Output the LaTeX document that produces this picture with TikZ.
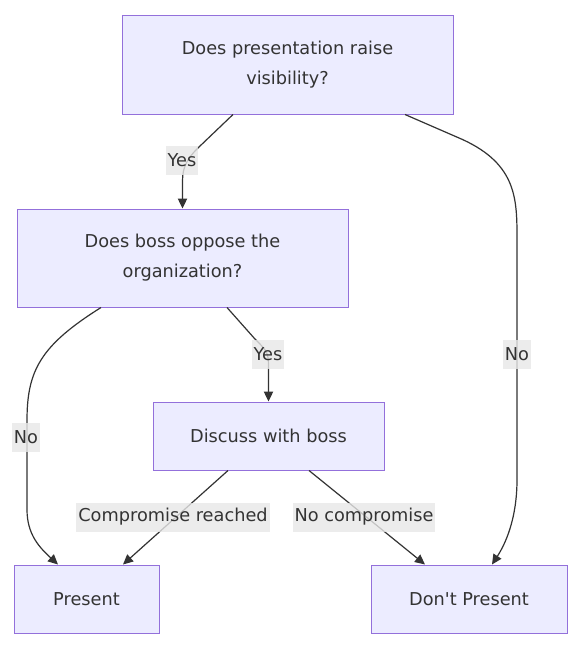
\documentclass[tikz,border=0pt]{standalone}
\usepackage{fontspec}
\newfontfamily\diagfont{DejaVu Sans}
\usetikzlibrary{arrows.meta,calc}
\definecolor{nodefill}{HTML}{ECECFF}
\definecolor{nodeborder}{HTML}{9370DB}
\definecolor{txt}{HTML}{333333}
\definecolor{lblbg}{HTML}{E8E8E8}
\tikzset{
  box/.style={draw=nodeborder, fill=nodefill, line width=0.75pt, text=txt, align=center,
    font=\diagfont\fontsize{13.3pt}{22.5pt}\selectfont, inner sep=0pt},
  edge/.style={draw=txt, line width=0.9pt, -{Triangle[length=7.5pt,width=7pt]}},
  lbl/.style={fill=lblbg, fill opacity=0.8, text opacity=1, text=txt, inner xsep=1.5pt, inner ysep=0pt,
    minimum height=21.75pt, font=\diagfont\fontsize{13.3pt}{15pt}\selectfont},
}
\begin{document}
\begin{tikzpicture}[x=0.75pt,y=-0.75pt]
\useasboundingbox (0,0) rectangle (575,646);
\fill[white] (0,0) rectangle (575,646);
\node[box, minimum width=248.25pt, minimum height=74.25pt] (A) at (287.5,64.5) {Does presentation raise\\visibility?};
\node[box, minimum width=248.25pt, minimum height=73.5pt] (B) at (182.5,258) {Does boss oppose the\\organization?};
\node[box, minimum width=173.25pt, minimum height=51pt] (C) at (268.5,436) {Discuss with boss};
\node[box, minimum width=108.75pt, minimum height=51pt] (D) at (86.5,599) {Present};
\node[box, minimum width=147pt, minimum height=51pt] (E) at (469,599) {Don't Present};

% A -> B
\draw[edge] ($(A.south)+(-54.5,0)$) -- ($(A.south)+(-88,32)$)
  .. controls ($(A.south)+(-105,48)$) and ($(A.south)+(-105,58)$) .. ($(A.south)+(-105,70)$)
  -- (B.north);
% A -> E
\draw[edge] ($(A.south)+(117.5,0)$) -- ($(A.south)+(175,25)$)
  .. controls ($(A.south)+(229.5,50)$) and ($(A.south)+(229.5,85)$) .. ($(A.south)+(229.5,125)$)
  -- ($(E.north)+(48,-85)$)
  .. controls ($(E.north)+(48,-45)$) and ($(E.north)+(36,-20)$) .. ($(E.north)+(23,0)$);
% B -> D
\draw[edge] ($(B.south)+(-81.5,0)$)
  .. controls ($(B.south)+(-142,38)$) and ($(B.south)+(-155.5,63)$) .. ($(B.south)+(-155.5,113)$)
  -- ($(D.north)+(-59.5,-55)$)
  .. controls ($(D.north)+(-59.5,-30)$) and ($(D.north)+(-47,-17)$) .. ($(D.north)+(-28.5,0)$);
% B -> C
\draw[edge] ($(B.south)+(44.5,0)$) -- ($(B.south)+(72,31)$)
  .. controls ($(B.south)+(86,45)$) .. ($(B.south)+(86,63)$)
  -- (C.north);
% C -> D
\draw[edge] ($(C.south)+(-40.5,0)$) -- ($(D.north)+(36.5,0)$);
% C -> E
\draw[edge] ($(C.south)+(40.5,0)$) -- ($(E.north)+(-44,0)$);

% labels
\node[lbl] (l1) at (182,160) {Yes};
\node[lbl] (l2) at (517,354) {No};
\node[lbl] (l3) at (26,437) {No};
\node[lbl] (l4) at (268,354) {Yes};
\node[lbl] (l5) at (173,517) {Compromise reached};
\node[lbl] (l6) at (364,517) {No compromise};
\end{tikzpicture}
\end{document}
